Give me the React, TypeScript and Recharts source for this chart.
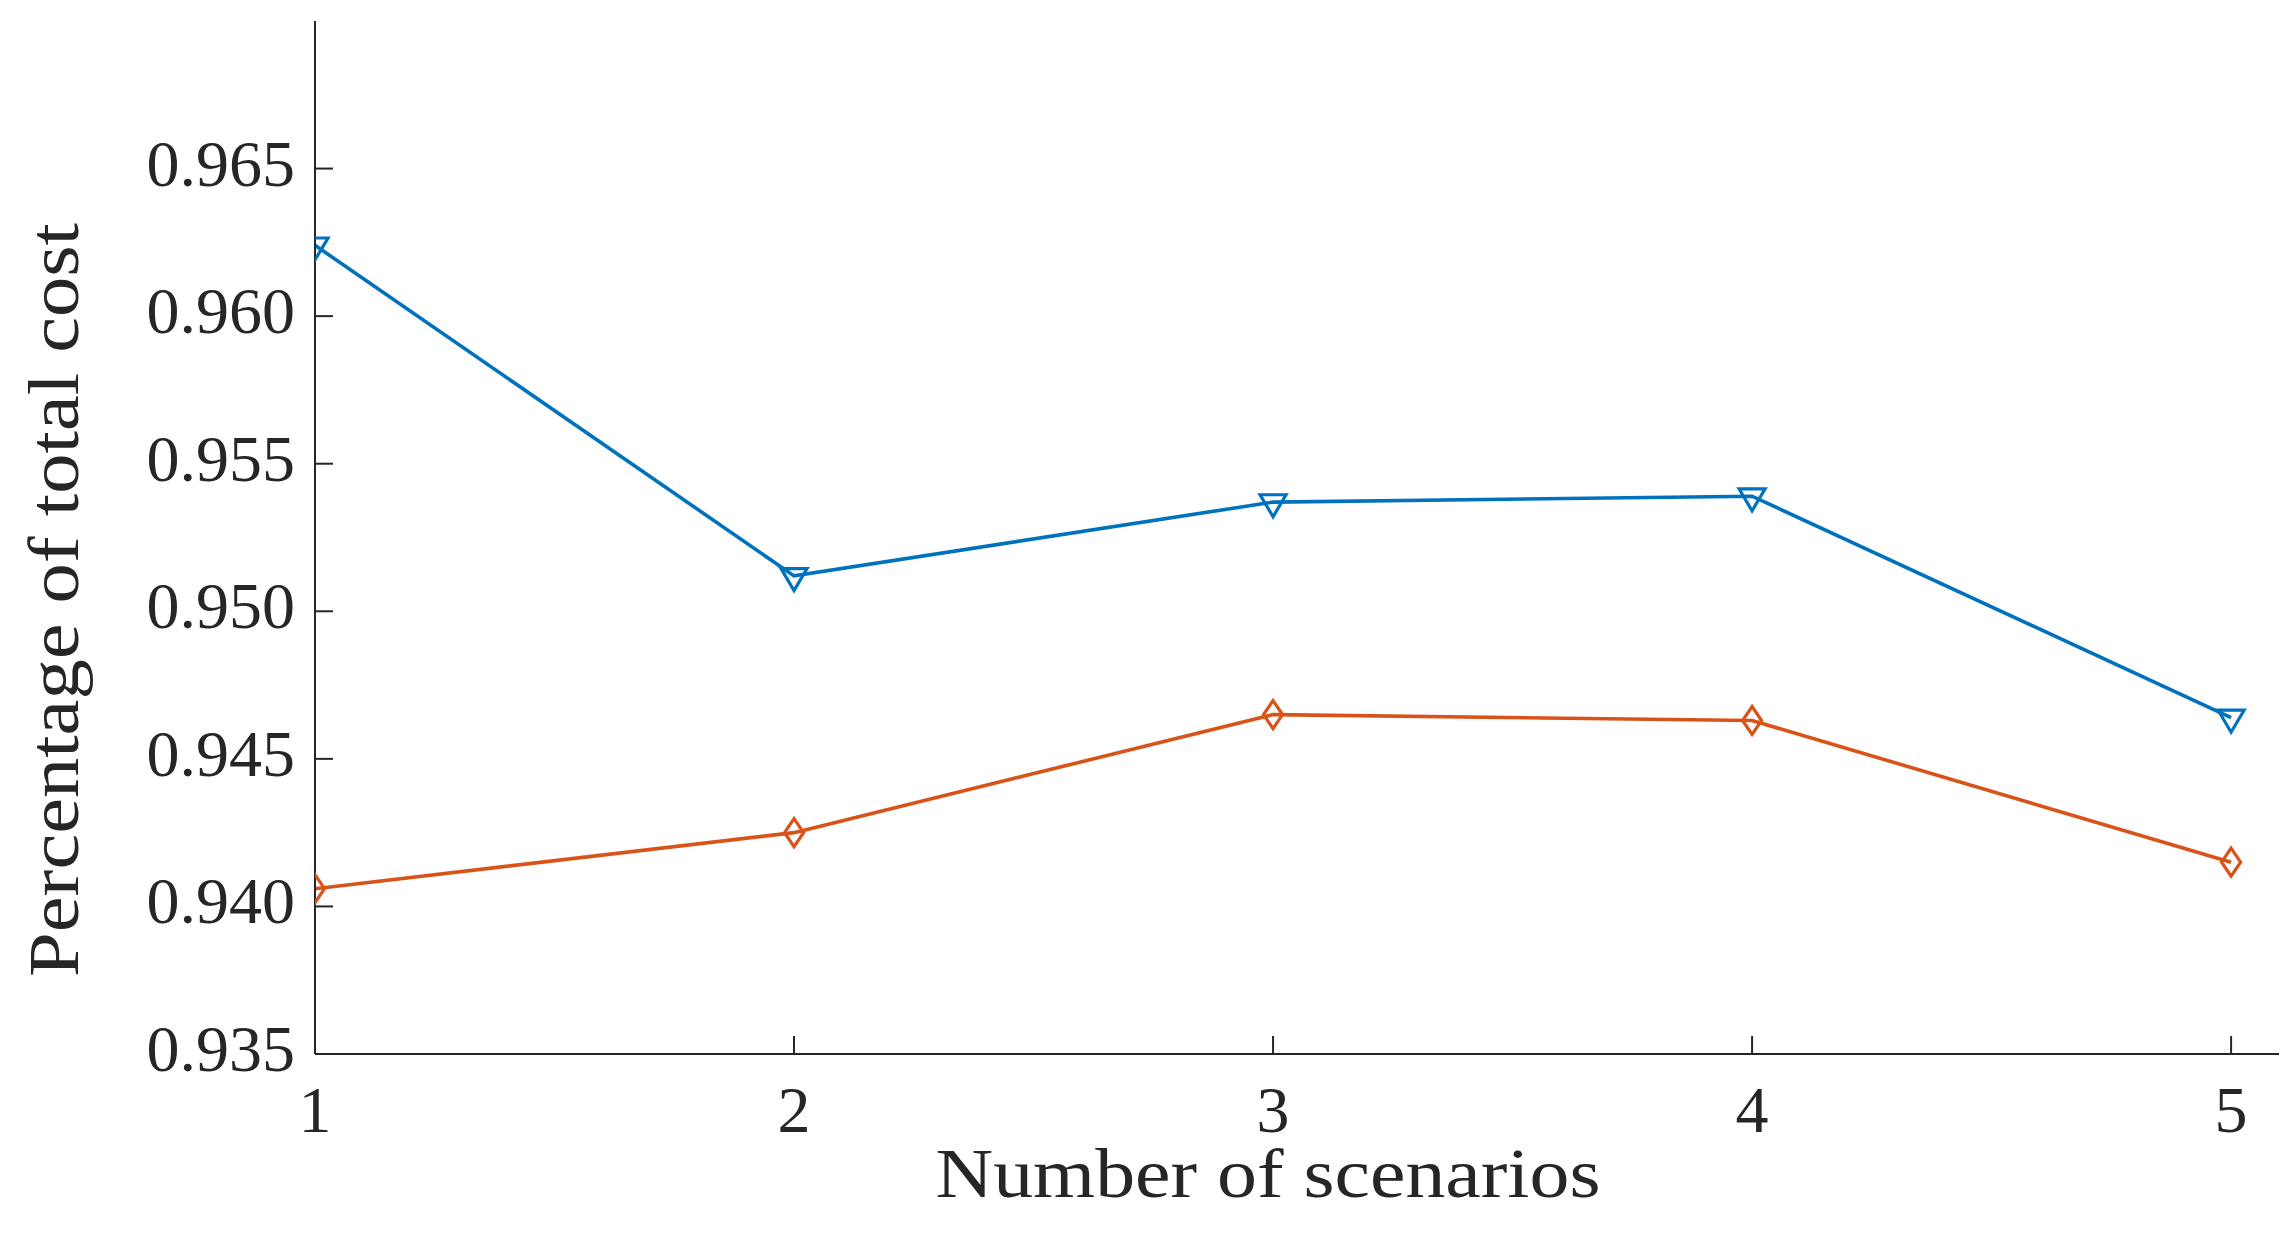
import React from 'react';
import { LineChart, Line, XAxis, YAxis } from 'recharts';

const scenarios = [1, 2, 3, 4, 5];
const seriesBlue = [0.9624, 0.9512, 0.9537, 0.9539, 0.9464];
const seriesOrange = [0.9406, 0.9425, 0.9465, 0.9463, 0.9415];
const xTicks = [1, 2, 3, 4, 5];
const yTicks = [0.935, 0.94, 0.945, 0.95, 0.955, 0.96, 0.965];

const data = scenarios.map((s, i) => ({ x: s, blue: seriesBlue[i], orange: seriesOrange[i] }));

const FONT = '"Liberation Serif", "Times New Roman", serif';
const AXIS = '#262626';
const BLUE = '#0072BD';
const ORANGE = '#D95319';

const YTick = (props: any) => {
  const { x, y, payload } = props;
  return (
    <g>
      <line x1={x} y1={y} x2={x + 18} y2={y} stroke={AXIS} strokeWidth={2} />
      <text x={x - 20} y={y + 17} textAnchor="end" fontFamily={FONT} fontSize={66} fill="#262626">
        {Number(payload.value).toFixed(3)}
      </text>
    </g>
  );
};

const XTick = (props: any) => {
  const { x, y, payload } = props;
  return (
    <g>
      <line x1={x} y1={y} x2={x} y2={y - 18} stroke={AXIS} strokeWidth={2} />
      <text x={x} y={y + 78} textAnchor="middle" fontFamily={FONT} fontSize={66} fill="#262626">
        {payload.value}
      </text>
    </g>
  );
};

const TriDot = (props: any) => {
  const { cx, cy, index } = props;
  if (cx == null || cy == null) return null;
  const w = 13;
  const h = 22;
  return (
    <path
      key={`t${index}`}
      d={`M${cx - w},${cy - h / 3} L${cx + w},${cy - h / 3} L${cx},${cy + (2 * h) / 3} Z`}
      fill="none"
      stroke={BLUE}
      strokeWidth={3.2}
      strokeLinejoin="miter"
    />
  );
};

const DiaDot = (props: any) => {
  const { cx, cy, index } = props;
  if (cx == null || cy == null) return null;
  const w = 9.5;
  const h = 14;
  return (
    <path
      key={`d${index}`}
      d={`M${cx},${cy - h} L${cx + w},${cy} L${cx},${cy + h} L${cx - w},${cy} Z`}
      fill="none"
      stroke={ORANGE}
      strokeWidth={3.2}
    />
  );
};

export default function App() {
  return (
    <div style={{ position: 'absolute', left: 0, top: 0, width: 2293, height: 1240, background: '#fff' }}>
      <LineChart width={2293} height={1240} data={data} margin={{ top: 21, right: 14, bottom: 0, left: 0 }}>
        <XAxis
          dataKey="x"
          type="number"
          domain={[1, 5.1]}
          ticks={xTicks}
          height={186}
          tickSize={0}
          tickMargin={0}
          tickLine={false}
          tick={<XTick />}
          axisLine={{ stroke: AXIS, strokeWidth: 2 }}
          allowDataOverflow
        />
        <YAxis
          type="number"
          domain={[0.935, 0.97]}
          ticks={yTicks}
          width={315}
          tickSize={0}
          tickMargin={0}
          tickLine={false}
          tick={<YTick />}
          axisLine={{ stroke: AXIS, strokeWidth: 2 }}
          allowDataOverflow
        />
        <Line
          dataKey="blue"
          stroke={BLUE}
          strokeWidth={3.6}
          isAnimationActive={false}
          dot={<TriDot />}
          activeDot={false}
        />
        <Line
          dataKey="orange"
          stroke={ORANGE}
          strokeWidth={3.6}
          isAnimationActive={false}
          dot={<DiaDot />}
          activeDot={false}
        />
        <text
          x={1268}
          y={1197}
          textAnchor="middle"
          fontFamily={FONT}
          fontSize={70}
          fill="#262626"
          textLength={665}
          lengthAdjust="spacingAndGlyphs"
        >
          Number of scenarios
        </text>
        <text
          x={0}
          y={0}
          transform="translate(78,600) rotate(-90)"
          textAnchor="middle"
          fontFamily={FONT}
          fontSize={72}
          fill="#262626"
          textLength={754}
          lengthAdjust="spacingAndGlyphs"
        >
          Percentage of total cost
        </text>
      </LineChart>
    </div>
  );
}
